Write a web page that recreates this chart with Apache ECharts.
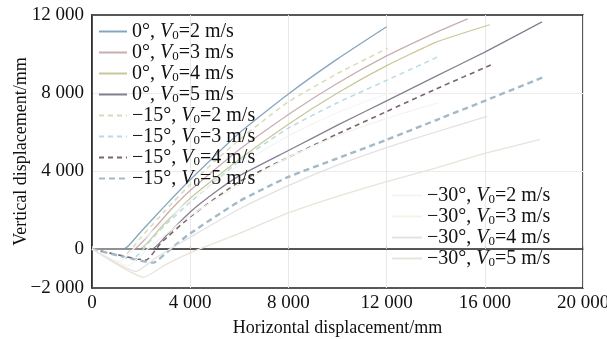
<!DOCTYPE html>
<html>
<head>
<meta charset="utf-8">
<script src="https://cdn.jsdelivr.net/npm/echarts@6/dist/echarts.min.js"></script>
<style>
html,body{margin:0;padding:0;background:#fff}
#chart{width:607px;height:339px}
</style>
</head>
<body>
<div id="chart"></div>
<script>
// trajectories, [horizontal mm, vertical mm]
const a0v2 = [[0,0],[1300,0],[2000,900],[3000,2250],[4000,3550],[6000,5950],[8000,7950],[10000,9750],[12000,11400]];
const a0v3 = [[0,0],[1700,0],[2500,1000],[3200,2000],[4000,3000],[6000,5100],[8000,6900],[10000,8500],[12000,9900],[14000,11100],[15300,11800]];
const a0v4 = [[0,0],[1950,0],[2800,1100],[4000,2600],[6000,4600],[8000,6400],[10000,8000],[12000,9400],[14000,10600],[16200,11500]];
const a0v5 = [[0,0],[2450,0],[3000,650],[4000,1900],[5000,2900],[6000,3750],[8000,5050],[10000,6350],[12000,7600],[14000,8850],[16000,10100],[18330,11650]];

const a15v2 = [[0,0],[1300,-330],[2000,600],[3000,2000],[4000,3300],[5000,4500],[6000,5600],[7000,6600],[8000,7550],[10000,9000],[12050,10300]];
const a15v3 = [[0,0],[1700,-450],[2500,600],[3000,1250],[4000,2400],[6000,4500],[8000,6200],[10000,7500],[12000,8650],[14170,9900]];
const a15v4 = [[0,0],[2200,-570],[2800,300],[4000,1650],[6000,3450],[8000,4700],[10000,5900],[12000,7050],[14000,8200],[16330,9480]];
const a15v5 = [[0,0],[2500,-700],[3200,0],[4000,800],[6000,2450],[8000,3700],[10000,4650],[12000,5600],[14000,6600],[16000,7600],[18370,8800]];

const a30v2 = [[0,0],[1100,-650],[2000,400],[4000,2500],[6000,4300],[8000,5800],[10000,7000],[12100,8000]];
const a30v3 = [[0,0],[1450,-850],[2400,150],[4000,1700],[6000,3300],[8000,4700],[10000,5800],[12000,6700],[14100,7500]];
const a30v4 = [[0,0],[1800,-1150],[2600,-450],[4000,600],[6000,2050],[8000,3250],[10000,4300],[12000,5200],[14000,6000],[16090,6800]];
const a30v5 = [[0,0],[2100,-1450],[3000,-800],[4000,-200],[6000,800],[8000,1850],[10000,2700],[12000,3450],[14000,4150],[16000,4900],[18250,5620]];

const xTicks = [0, 4000, 8000, 12000, 16000, 20000];
const yTicks = [-2000, 0, 4000, 8000, 12000];

const font = 'Liberation Serif';
const fmt = v => (v < 0 ? '\u2212' : '') + Math.abs(v).toString().replace(/\B(?=(\d{3})+(?!\d))/g, ' ');

const nm = (a, v) => `${a === 0 ? '0' : '\u2212' + a}°, V0=${v} m/s`;

function line(name, data, color, type, width){
    return {
        name, type:'line', data, symbol:'none', smooth:0.15,
        lineStyle:{color, type:type || 'solid', width:width || 1.3},
        itemStyle:{color}
    }
}

const series = [
    line(nm(0,2), a0v2, '#86a6c0'),
    line(nm(0,3), a0v3, '#c9aeb0'),
    line(nm(0,4), a0v4, '#c9c896'),
    line(nm(0,5), a0v5, '#858090'),
    line(nm(15,2), a15v2, '#d9dcb4', [5,4], 1.5),
    line(nm(15,3), a15v3, '#b9dbe6', [5,4], 1.5),
    line(nm(15,4), a15v4, '#7a6470', [5,4], 1.6),
    line(nm(15,5), a15v5, '#a3b9c8', [6,4], 2.4),
    line(nm(30,2), a30v2, '#f3f5f6'),
    line(nm(30,3), a30v3, '#f5f4ea'),
    line(nm(30,4), a30v4, '#e2e2e2'),
    line(nm(30,5), a30v5, '#e8e4da')
];

const rich = {
    n:{fontFamily:font, fontSize:20, color:'#111', lineHeight:21, verticalAlign:'bottom'},
    v:{fontFamily:font, fontSize:20, color:'#111', fontStyle:'italic', lineHeight:21, verticalAlign:'bottom'},
    s:{fontFamily:font, fontSize:13, color:'#111', lineHeight:8, verticalAlign:'bottom'}
};
const legendFmt = name => {
    const [a, rest] = name.split(', V0=');
    return `{n|${a}, }{v|V}{s|0}{n|=${rest}}`;
};

const legendBase = {
    orient:'vertical', itemHeight:12, itemGap:1, padding:0,
    itemStyle:{opacity:0},
    formatter:legendFmt, textStyle:{rich}
};

const chart = echarts.init(document.getElementById('chart'));
chart.setOption({
    animation:false,
    grid:{left:92, right:24, top:15, bottom:51, outerBoundsMode:'none',
        show:true, borderColor:'#222', borderWidth:1.5},
    legend:[
        Object.assign({}, legendBase, {
            data:series.slice(0,8).map(s=>s.name),
            left:98, top:22, itemWidth:28
        }),
        Object.assign({}, legendBase, {
            data:series.slice(8).map(s=>s.name),
            left:391, top:186, itemWidth:30
        })
    ],
    xAxis:{
        type:'value', min:0, max:20000, interval:4000,
        name:'Horizontal displacement/mm', nameLocation:'middle', nameGap:31,
        nameMoveOverlap:false,
        nameTextStyle:{fontFamily:font, fontSize:18, color:'#111'},
        axisLine:{lineStyle:{color:'#222', width:1.5}},
        axisTick:{show:true, inside:true, length:3, lineStyle:{color:'#ccc'}},
        axisLabel:{fontFamily:font, fontSize:19, color:'#111', margin:6,
            formatter:v => xTicks.includes(v) ? fmt(v) : ''},
        splitLine:{show:true, lineStyle:{color:'#e8e8e8', width:1}}
    },
    yAxis:{
        type:'value', min:-2000, max:12000, interval:2000,
        name:'Vertical displacement/mm', nameLocation:'middle', nameGap:62,
        nameMoveOverlap:false,
        nameTextStyle:{fontFamily:font, fontSize:18, color:'#111'},
        axisLine:{show:true, lineStyle:{color:'#222', width:1.5}},
        axisTick:{show:false},
        axisLabel:{fontFamily:font, fontSize:19, color:'#111', margin:8,
            formatter:v => yTicks.includes(v) ? fmt(v) : ''},
        splitLine:{show:true, lineStyle:{width:1,
            color:['rgba(0,0,0,0)','#ececec','rgba(0,0,0,0)','#ececec','rgba(0,0,0,0)','#ececec','rgba(0,0,0,0)','rgba(0,0,0,0)']}}
    },
    series
});
</script>
</body>
</html>
